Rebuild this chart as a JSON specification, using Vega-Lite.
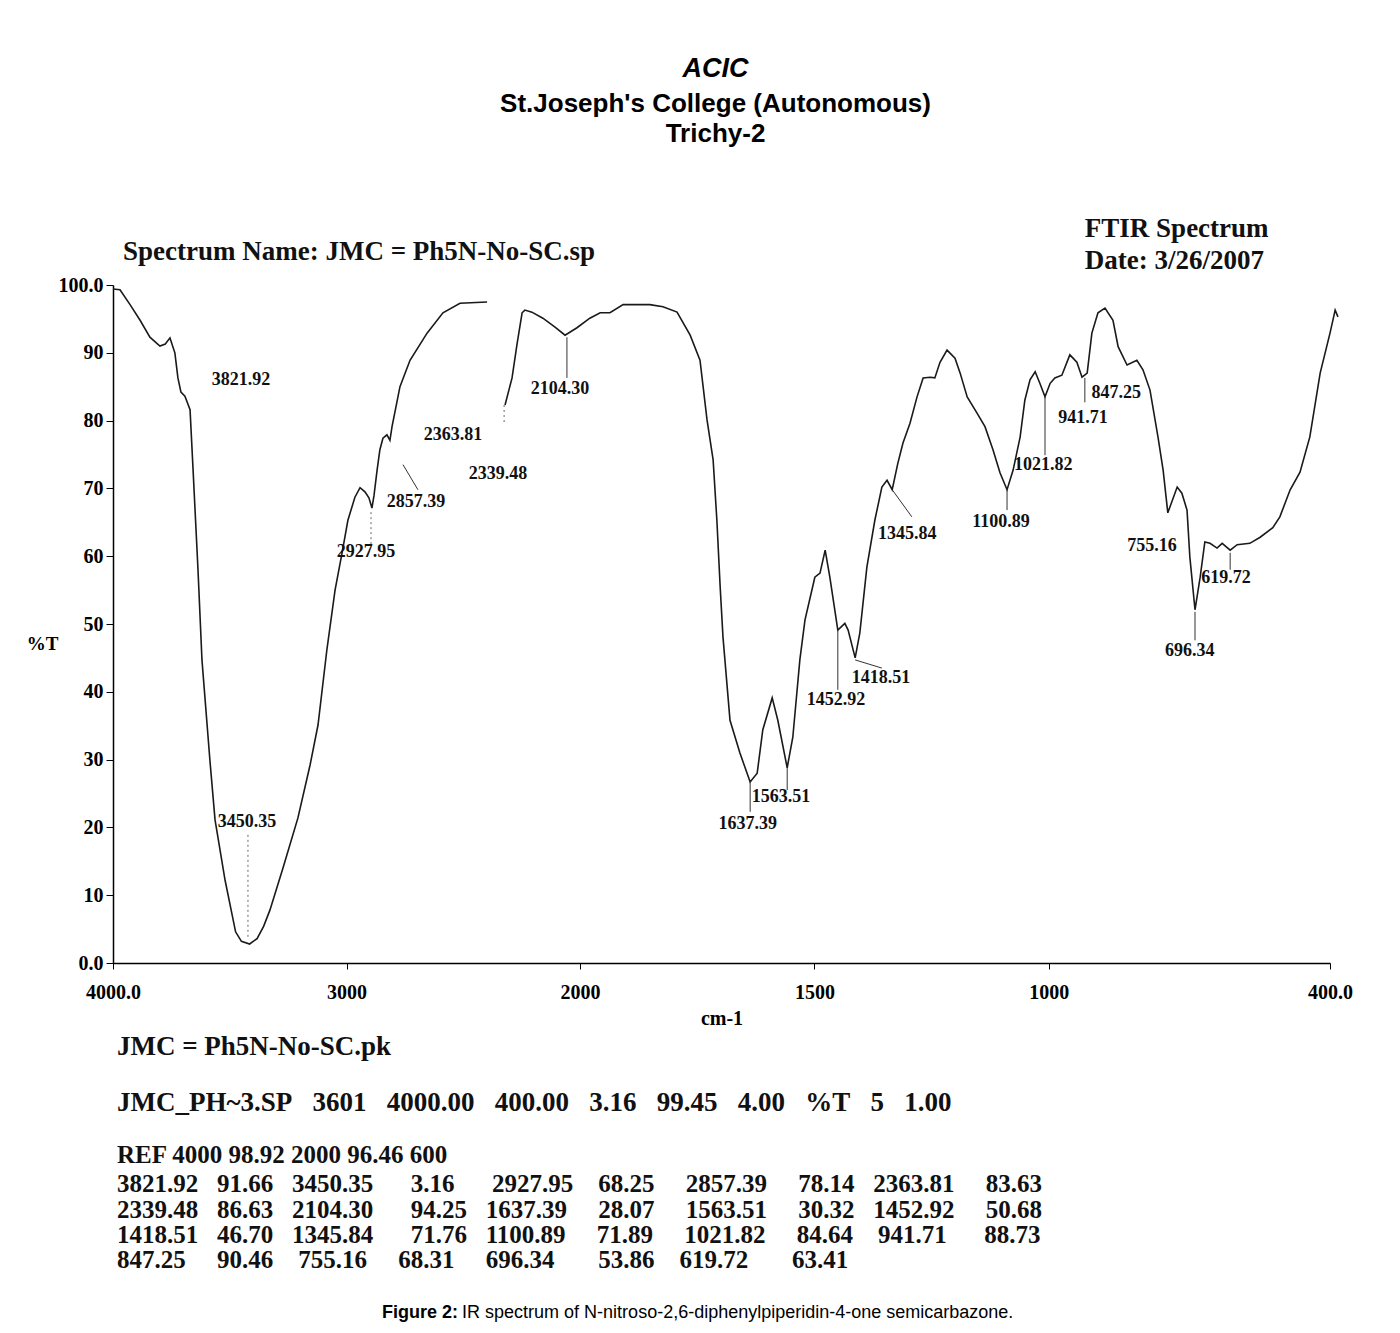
{
  "$schema": "https://vega.github.io/schema/vega-lite/v6.json",
  "width": 1217,
  "height": 678,
  "autosize": {"type": "none"},
  "padding": {"left": 113, "top": 285, "right": 70, "bottom": 370},
  "background": "white",
  "config": {"view": {"stroke": null}, "font": "Liberation Serif"},
  "title": {
    "text": "ACIC",
    "subtitle": ["St.Joseph's College (Autonomous)", "Trichy-2"],
    "font": "Liberation Sans",
    "fontSize": 27,
    "fontStyle": "italic",
    "fontWeight": "bold",
    "color": "black",
    "subtitleFont": "Liberation Sans",
    "subtitleFontSize": 26,
    "subtitleFontWeight": "bold",
    "subtitleColor": "black",
    "subtitleLineHeight": 30,
    "subtitlePadding": 8,
    "anchor": "middle",
    "dx": -6,
    "offset": 67
  },
  "datasets": {
    "spectrum": [
      {"wn": 4000, "T": 99.4, "seg": "a"}, {"wn": 3970, "T": 99.3, "seg": "a"}, {"wn": 3927, "T": 97.1, "seg": "a"},
      {"wn": 3884, "T": 94.8, "seg": "a"}, {"wn": 3842, "T": 92.3, "seg": "a"}, {"wn": 3799, "T": 91.0, "seg": "a"},
      {"wn": 3776, "T": 91.3, "seg": "a"}, {"wn": 3756, "T": 92.2, "seg": "a"}, {"wn": 3735, "T": 90.0, "seg": "a"},
      {"wn": 3722, "T": 86.3, "seg": "a"}, {"wn": 3709, "T": 84.2, "seg": "a"}, {"wn": 3692, "T": 83.6, "seg": "a"},
      {"wn": 3670, "T": 81.6, "seg": "a"}, {"wn": 3657, "T": 72.7, "seg": "a"}, {"wn": 3636, "T": 58.0, "seg": "a"},
      {"wn": 3619, "T": 44.7, "seg": "a"}, {"wn": 3585, "T": 29.9, "seg": "a"}, {"wn": 3563, "T": 21.1, "seg": "a"},
      {"wn": 3520, "T": 12.2, "seg": "a"}, {"wn": 3475, "T": 4.6, "seg": "a"}, {"wn": 3450, "T": 3.2, "seg": "a"},
      {"wn": 3415, "T": 2.8, "seg": "a"}, {"wn": 3383, "T": 3.6, "seg": "a"}, {"wn": 3355, "T": 5.4, "seg": "a"},
      {"wn": 3328, "T": 7.8, "seg": "a"}, {"wn": 3272, "T": 14.0, "seg": "a"},
      {"wn": 3208, "T": 21.4, "seg": "a"}, {"wn": 3156, "T": 29.2, "seg": "a"}, {"wn": 3122, "T": 35.1, "seg": "a"},
      {"wn": 3084, "T": 46.2, "seg": "a"}, {"wn": 3049, "T": 55.0, "seg": "a"}, {"wn": 3019, "T": 60.5, "seg": "a"},
      {"wn": 2994, "T": 65.3, "seg": "a"}, {"wn": 2964, "T": 68.7, "seg": "a"}, {"wn": 2942, "T": 70.1, "seg": "a"},
      {"wn": 2921, "T": 69.5, "seg": "a"}, {"wn": 2904, "T": 68.6, "seg": "a"}, {"wn": 2891, "T": 67.1, "seg": "a"},
      {"wn": 2882, "T": 69.0, "seg": "a"}, {"wn": 2869, "T": 72.7, "seg": "a"}, {"wn": 2857, "T": 75.7, "seg": "a"},
      {"wn": 2844, "T": 77.4, "seg": "a"}, {"wn": 2827, "T": 77.9, "seg": "a"}, {"wn": 2814, "T": 77.1, "seg": "a"},
      {"wn": 2805, "T": 79.1, "seg": "a"}, {"wn": 2771, "T": 85.0, "seg": "a"}, {"wn": 2728, "T": 88.9, "seg": "a"},
      {"wn": 2655, "T": 92.9, "seg": "a"}, {"wn": 2587, "T": 95.9, "seg": "a"}, {"wn": 2514, "T": 97.3, "seg": "a"},
      {"wn": 2398, "T": 97.5, "seg": "a"},
      {"wn": 2321, "T": 82.3, "seg": "b"}, {"wn": 2291, "T": 86.3, "seg": "b"}, {"wn": 2270, "T": 91.2, "seg": "b"},
      {"wn": 2248, "T": 95.9, "seg": "b"}, {"wn": 2236, "T": 96.3, "seg": "b"}, {"wn": 2206, "T": 96.0, "seg": "b"},
      {"wn": 2159, "T": 95.1, "seg": "b"}, {"wn": 2107, "T": 93.8, "seg": "b"}, {"wn": 2064, "T": 92.6, "seg": "b"},
      {"wn": 2013, "T": 93.7, "seg": "b"}, {"wn": 1979, "T": 95.1, "seg": "b"}, {"wn": 1957, "T": 95.9, "seg": "b"},
      {"wn": 1936, "T": 95.9, "seg": "b"}, {"wn": 1908, "T": 97.1, "seg": "b"}, {"wn": 1878, "T": 97.1, "seg": "b"},
      {"wn": 1851, "T": 97.1, "seg": "b"}, {"wn": 1823, "T": 96.8, "seg": "b"}, {"wn": 1793, "T": 96.0, "seg": "b"},
      {"wn": 1765, "T": 92.6, "seg": "b"}, {"wn": 1744, "T": 88.9, "seg": "b"}, {"wn": 1729, "T": 80.1, "seg": "b"},
      {"wn": 1716, "T": 74.2, "seg": "b"}, {"wn": 1708, "T": 65.3, "seg": "b"}, {"wn": 1701, "T": 55.5, "seg": "b"},
      {"wn": 1695, "T": 48.1, "seg": "b"}, {"wn": 1680, "T": 35.8, "seg": "b"}, {"wn": 1659, "T": 31.0, "seg": "b"},
      {"wn": 1637, "T": 26.7, "seg": "b"}, {"wn": 1622, "T": 28.0, "seg": "b"}, {"wn": 1610, "T": 34.4, "seg": "b"},
      {"wn": 1590, "T": 39.1, "seg": "b"}, {"wn": 1578, "T": 35.8, "seg": "b"}, {"wn": 1558, "T": 28.8, "seg": "b"},
      {"wn": 1546, "T": 33.3, "seg": "b"}, {"wn": 1531, "T": 44.7, "seg": "b"}, {"wn": 1520, "T": 50.6, "seg": "b"},
      {"wn": 1499, "T": 56.9, "seg": "b"}, {"wn": 1488, "T": 57.5, "seg": "b"}, {"wn": 1477, "T": 60.9, "seg": "b"},
      {"wn": 1467, "T": 56.9, "seg": "b"}, {"wn": 1450, "T": 49.1, "seg": "b"}, {"wn": 1435, "T": 50.1, "seg": "b"},
      {"wn": 1428, "T": 49.1, "seg": "b"}, {"wn": 1413, "T": 45.0, "seg": "b"}, {"wn": 1403, "T": 48.7, "seg": "b"},
      {"wn": 1388, "T": 58.4, "seg": "b"}, {"wn": 1371, "T": 65.3, "seg": "b"}, {"wn": 1356, "T": 70.2, "seg": "b"},
      {"wn": 1345, "T": 71.2, "seg": "b"}, {"wn": 1334, "T": 69.8, "seg": "b"}, {"wn": 1322, "T": 73.7, "seg": "b"},
      {"wn": 1311, "T": 76.7, "seg": "b"}, {"wn": 1296, "T": 79.6, "seg": "b"}, {"wn": 1281, "T": 83.5, "seg": "b"},
      {"wn": 1268, "T": 86.3, "seg": "b"}, {"wn": 1253, "T": 86.4, "seg": "b"}, {"wn": 1243, "T": 86.3, "seg": "b"},
      {"wn": 1232, "T": 88.6, "seg": "b"}, {"wn": 1217, "T": 90.4, "seg": "b"}, {"wn": 1200, "T": 89.2, "seg": "b"},
      {"wn": 1189, "T": 87.0, "seg": "b"}, {"wn": 1174, "T": 83.5, "seg": "b"}, {"wn": 1153, "T": 81.1, "seg": "b"},
      {"wn": 1136, "T": 79.1, "seg": "b"}, {"wn": 1119, "T": 75.7, "seg": "b"}, {"wn": 1104, "T": 72.3, "seg": "b"},
      {"wn": 1089, "T": 69.8, "seg": "b"}, {"wn": 1076, "T": 72.7, "seg": "b"}, {"wn": 1061, "T": 77.6, "seg": "b"},
      {"wn": 1051, "T": 83.0, "seg": "b"}, {"wn": 1040, "T": 86.0, "seg": "b"}, {"wn": 1029, "T": 87.2, "seg": "b"},
      {"wn": 1019, "T": 85.5, "seg": "b"}, {"wn": 1008, "T": 83.5, "seg": "b"}, {"wn": 997, "T": 85.5, "seg": "b"},
      {"wn": 987, "T": 86.3, "seg": "b"}, {"wn": 972, "T": 86.7, "seg": "b"}, {"wn": 955, "T": 89.7, "seg": "b"},
      {"wn": 940, "T": 88.6, "seg": "b"}, {"wn": 929, "T": 86.4, "seg": "b"}, {"wn": 918, "T": 87.0, "seg": "b"},
      {"wn": 908, "T": 92.9, "seg": "b"}, {"wn": 895, "T": 95.9, "seg": "b"}, {"wn": 880, "T": 96.6, "seg": "b"},
      {"wn": 863, "T": 94.8, "seg": "b"}, {"wn": 852, "T": 90.9, "seg": "b"}, {"wn": 833, "T": 88.2, "seg": "b"},
      {"wn": 812, "T": 88.9, "seg": "b"}, {"wn": 799, "T": 87.5, "seg": "b"}, {"wn": 784, "T": 84.5, "seg": "b"},
      {"wn": 767, "T": 77.6, "seg": "b"}, {"wn": 756, "T": 72.7, "seg": "b"}, {"wn": 746, "T": 66.4, "seg": "b"},
      {"wn": 726, "T": 70.2, "seg": "b"}, {"wn": 716, "T": 69.3, "seg": "b"}, {"wn": 705, "T": 66.8, "seg": "b"},
      {"wn": 699, "T": 59.9, "seg": "b"}, {"wn": 688, "T": 52.1, "seg": "b"}, {"wn": 677, "T": 56.9, "seg": "b"},
      {"wn": 667, "T": 62.1, "seg": "b"}, {"wn": 656, "T": 61.9, "seg": "b"}, {"wn": 641, "T": 61.2, "seg": "b"},
      {"wn": 630, "T": 61.9, "seg": "b"}, {"wn": 613, "T": 60.9, "seg": "b"}, {"wn": 598, "T": 61.7, "seg": "b"},
      {"wn": 571, "T": 61.9, "seg": "b"}, {"wn": 549, "T": 62.8, "seg": "b"}, {"wn": 522, "T": 64.2, "seg": "b"},
      {"wn": 507, "T": 65.8, "seg": "b"}, {"wn": 485, "T": 69.8, "seg": "b"}, {"wn": 464, "T": 72.4, "seg": "b"},
      {"wn": 443, "T": 77.6, "seg": "b"}, {"wn": 421, "T": 87.0, "seg": "b"}, {"wn": 400, "T": 92.9, "seg": "b"},
      {"wn": 389, "T": 96.3, "seg": "b"}, {"wn": 383, "T": 95.3, "seg": "b"}
    ],
    "peaks": [
      {"peak": "3821.92", "wn": 3452, "T": 86.0},
      {"peak": "3450.35", "wn": 3426, "T": 20.8},
      {"peak": "2927.95", "wn": 2916, "T": 60.6},
      {"peak": "2857.39", "wn": 2702, "T": 68.0},
      {"peak": "2363.81", "wn": 2544, "T": 77.9},
      {"peak": "2339.48", "wn": 2351, "T": 72.1},
      {"peak": "2104.30", "wn": 2086, "T": 84.7},
      {"peak": "1637.39", "wn": 1642, "T": 20.5},
      {"peak": "1563.51", "wn": 1571, "T": 24.5},
      {"peak": "1452.92", "wn": 1454, "T": 38.8},
      {"peak": "1418.51", "wn": 1358, "T": 42.0},
      {"peak": "1345.84", "wn": 1302, "T": 63.3},
      {"peak": "1100.89", "wn": 1102, "T": 65.0},
      {"peak": "1021.82", "wn": 1012, "T": 73.5},
      {"peak": "941.71", "wn": 927, "T": 80.4},
      {"peak": "847.25", "wn": 856, "T": 84.1},
      {"peak": "755.16", "wn": 780, "T": 61.5},
      {"peak": "619.72", "wn": 622, "T": 56.8},
      {"peak": "696.34", "wn": 699, "T": 46.0}
    ],
    "leaders": [
      {"wn": 2758, "T": 73.5, "wn2": 2694, "T2": 69.8},
      {"wn": 2056, "T": 92.3, "wn2": 2056, "T2": 86.3},
      {"wn": 1637, "T": 26.7, "wn2": 1637, "T2": 22.3},
      {"wn": 1558, "T": 28.8, "wn2": 1558, "T2": 25.5},
      {"wn": 1450, "T": 49.1, "wn2": 1450, "T2": 40.3},
      {"wn": 1413, "T": 44.7, "wn2": 1356, "T2": 43.5},
      {"wn": 1334, "T": 69.8, "wn2": 1292, "T2": 65.8},
      {"wn": 1089, "T": 69.8, "wn2": 1089, "T2": 66.8},
      {"wn": 1008, "T": 83.5, "wn2": 1008, "T2": 74.9},
      {"wn": 923, "T": 86.3, "wn2": 923, "T2": 82.7},
      {"wn": 688, "T": 51.8, "wn2": 688, "T2": 47.6},
      {"wn": 613, "T": 60.5, "wn2": 613, "T2": 58.0}
    ],
    "dotted": [
      {"wn": 3422, "T": 18.9, "wn2": 3422, "T2": 3.4},
      {"wn": 2895, "T": 66.5, "wn2": 2895, "T2": 61.7},
      {"wn": 2325, "T": 82.3, "wn2": 2325, "T2": 79.5}
    ],
    "header": [
      {"line": "Spectrum Name: JMC = Ph5N-No-SC.sp", "wn": 3957, "T": 104.9},
      {"line": "FTIR Spectrum", "wn": 923, "T": 108.3},
      {"line": "Date: 3/26/2007", "wn": 923, "T": 103.5}
    ],
    "footer": [
      {"line": "JMC = Ph5N-No-SC.pk", "wn": 3983, "T": -12.4},
      {"line": "JMC_PH~3.SP\u00a0\u00a0\u00a03601\u00a0\u00a0\u00a04000.00\u00a0\u00a0\u00a0400.00\u00a0\u00a0\u00a03.16\u00a0\u00a0\u00a099.45\u00a0\u00a0\u00a04.00\u00a0\u00a0\u00a0%T\u00a0\u00a0\u00a05\u00a0\u00a0\u00a01.00", "wn": 3983, "T": -20.6}
    ],
    "table": [
      {"line": "REF 4000 98.92 2000 96.46 600", "wn": 3983, "T": -28.3},
      {"line": "3821.92\u00a0\u00a0\u00a091.66\u00a0\u00a0\u00a03450.35\u00a0\u00a0\u00a0\u00a0\u00a0\u00a03.16\u00a0\u00a0\u00a0\u00a0\u00a0\u00a02927.95\u00a0\u00a0\u00a0\u00a068.25\u00a0\u00a0\u00a0\u00a0\u00a02857.39\u00a0\u00a0\u00a0\u00a0\u00a078.14\u00a0\u00a0\u00a02363.81\u00a0\u00a0\u00a0\u00a0\u00a083.63", "wn": 3983, "T": -32.6},
      {"line": "2339.48\u00a0\u00a0\u00a086.63\u00a0\u00a0\u00a02104.30\u00a0\u00a0\u00a0\u00a0\u00a0\u00a094.25\u00a0\u00a0\u00a01637.39\u00a0\u00a0\u00a0\u00a0\u00a028.07\u00a0\u00a0\u00a0\u00a0\u00a01563.51\u00a0\u00a0\u00a0\u00a0\u00a030.32\u00a0\u00a0\u00a01452.92\u00a0\u00a0\u00a0\u00a0\u00a050.68", "wn": 3983, "T": -36.4},
      {"line": "1418.51\u00a0\u00a0\u00a046.70\u00a0\u00a0\u00a01345.84\u00a0\u00a0\u00a0\u00a0\u00a0\u00a071.76\u00a0\u00a0\u00a01100.89\u00a0\u00a0\u00a0\u00a0\u00a071.89\u00a0\u00a0\u00a0\u00a0\u00a01021.82\u00a0\u00a0\u00a0\u00a0\u00a084.64\u00a0\u00a0\u00a0\u00a0941.71\u00a0\u00a0\u00a0\u00a0\u00a0\u00a088.73", "wn": 3983, "T": -40.1},
      {"line": "847.25\u00a0\u00a0\u00a0\u00a0\u00a090.46\u00a0\u00a0\u00a0\u00a0755.16\u00a0\u00a0\u00a0\u00a0\u00a068.31\u00a0\u00a0\u00a0\u00a0\u00a0696.34\u00a0\u00a0\u00a0\u00a0\u00a0\u00a0\u00a053.86\u00a0\u00a0\u00a0\u00a0619.72\u00a0\u00a0\u00a0\u00a0\u00a0\u00a0\u00a063.41", "wn": 3983, "T": -43.8}
    ],
    "captionBold": [{"line": "Figure 2:", "wn": 2522, "T": -51.6}],
    "captionRest": [{"line": "IR spectrum of N-nitroso-2,6-diphenylpiperidin-4-one semicarbazone.", "wn": 2505, "T": -51.6}]
  },
  "layer": [
    {
      "data": {"name": "spectrum"},
      "mark": {"type": "line", "color": "#1a1a1a", "strokeWidth": 1.6, "clip": false},
      "encoding": {
        "x": {
          "field": "wn",
          "type": "quantitative",
          "scale": {"domain": [4000, 2000, 400], "range": [0, 467, 1217], "nice": false, "zero": false},
          "axis": {
            "values": [4000, 3000, 2000, 1500, 1000, 400],
            "format": "d",
            "labelExpr": "datum.value == 4000 ? '4000.0' : datum.value == 400 ? '400.0' : datum.label",
            "title": "cm-1",
            "grid": false,
            "labelFont": "Liberation Serif",
            "labelFontWeight": "bold",
            "labelFontSize": 20,
            "labelColor": "black",
            "labelPadding": 13,
            "labelFlush": false,
            "tickSize": 6,
            "tickColor": "black",
            "domainColor": "black",
            "domainWidth": 1.5,
            "titleFont": "Liberation Serif",
            "titleFontWeight": "bold",
            "titleFontSize": 20,
            "titleColor": "black",
            "titlePadding": 6
          }
        },
        "y": {
          "field": "T",
          "type": "quantitative",
          "scale": {"domain": [0, 100], "nice": false, "zero": false},
          "axis": {
            "values": [0, 10, 20, 30, 40, 50, 60, 70, 80, 90, 100],
            "labelExpr": "datum.value == 0 ? '0.0' : datum.value == 100 ? '100.0' : datum.label",
            "title": "%T",
            "titleAngle": 0,
            "titleX": -71,
            "titleY": 358,
            "titleAlign": "center",
            "titleBaseline": "middle",
            "titleFont": "Liberation Serif",
            "titleFontWeight": "bold",
            "titleFontSize": 19,
            "titleColor": "black",
            "grid": false,
            "labelFont": "Liberation Serif",
            "labelFontWeight": "bold",
            "labelFontSize": 20,
            "labelColor": "black",
            "labelPadding": 3,
            "labelFlush": false,
            "tickSize": 7,
            "tickColor": "black",
            "domainColor": "black",
            "domainWidth": 1.5
          }
        },
        "detail": {"field": "seg"}
      }
    },
    {
      "data": {"name": "leaders"},
      "mark": {"type": "rule", "color": "#333", "strokeWidth": 1},
      "encoding": {
        "x": {"field": "wn", "type": "quantitative"},
        "y": {"field": "T", "type": "quantitative"},
        "x2": {"field": "wn2"},
        "y2": {"field": "T2"}
      }
    },
    {
      "data": {"name": "dotted"},
      "mark": {"type": "rule", "color": "#666", "strokeWidth": 1, "strokeDash": [2, 3]},
      "encoding": {
        "x": {"field": "wn", "type": "quantitative"},
        "y": {"field": "T", "type": "quantitative"},
        "x2": {"field": "wn2"},
        "y2": {"field": "T2"}
      }
    },
    {
      "data": {"name": "peaks"},
      "mark": {"type": "text", "font": "Liberation Serif", "fontWeight": "bold", "fontSize": 18, "color": "#111", "align": "center", "baseline": "middle"},
      "encoding": {
        "x": {"field": "wn", "type": "quantitative"},
        "y": {"field": "T", "type": "quantitative"},
        "text": {"field": "peak"}
      }
    },
    {
      "data": {"name": "header"},
      "mark": {"type": "text", "font": "Liberation Serif", "fontWeight": "bold", "fontSize": 27, "color": "#111", "align": "left", "baseline": "middle"},
      "encoding": {
        "x": {"field": "wn", "type": "quantitative"},
        "y": {"field": "T", "type": "quantitative"},
        "text": {"field": "line"}
      }
    },
    {
      "data": {"name": "footer"},
      "mark": {"type": "text", "font": "Liberation Serif", "fontWeight": "bold", "fontSize": 27, "color": "#111", "align": "left", "baseline": "middle"},
      "encoding": {
        "x": {"field": "wn", "type": "quantitative"},
        "y": {"field": "T", "type": "quantitative"},
        "text": {"field": "line"}
      }
    },
    {
      "data": {"name": "table"},
      "mark": {"type": "text", "font": "Liberation Serif", "fontWeight": "bold", "fontSize": 25, "color": "#111", "align": "left", "baseline": "middle"},
      "encoding": {
        "x": {"field": "wn", "type": "quantitative"},
        "y": {"field": "T", "type": "quantitative"},
        "text": {"field": "line"}
      }
    },
    {
      "data": {"name": "captionBold"},
      "mark": {"type": "text", "font": "Liberation Sans", "fontWeight": "bold", "fontSize": 18, "color": "black", "align": "right", "baseline": "middle"},
      "encoding": {
        "x": {"field": "wn", "type": "quantitative"},
        "y": {"field": "T", "type": "quantitative"},
        "text": {"field": "line"}
      }
    },
    {
      "data": {"name": "captionRest"},
      "mark": {"type": "text", "font": "Liberation Sans", "fontSize": 18, "color": "black", "align": "left", "baseline": "middle"},
      "encoding": {
        "x": {"field": "wn", "type": "quantitative"},
        "y": {"field": "T", "type": "quantitative"},
        "text": {"field": "line"}
      }
    }
  ]
}
